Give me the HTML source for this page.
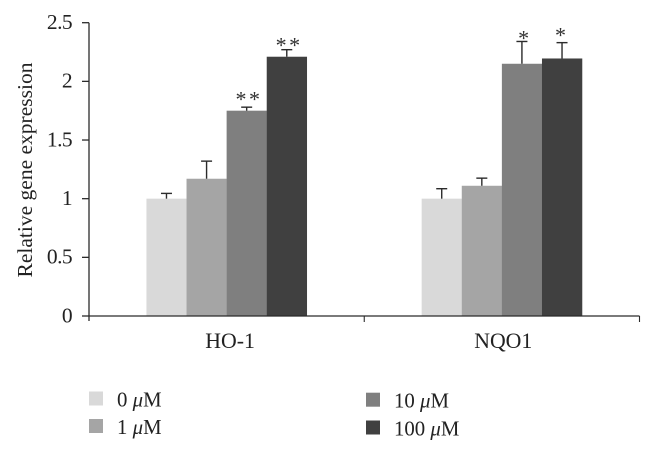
<!DOCTYPE html>
<html lang="en">
<head>
<meta charset="utf-8">
<title>Relative gene expression</title>
<style>
html,body{margin:0;padding:0;background:#fff;width:654px;height:454px;overflow:hidden}
svg{display:block;font-family:"Liberation Serif",serif;fill:#222}
</style>
</head>
<body>
<svg id="chart" width="654" height="454" viewBox="0 0 654 454" xmlns="http://www.w3.org/2000/svg"></svg>
<script>
const categories = ['HO-1', 'NQO1'];
const seriesNames = ['0', '1', '10', '100'];
const seriesColors = ['#d9d9d9', '#a5a5a5', '#7f7f7f', '#404040'];
const series0 = [1, 1];
const series1 = [1.17, 1.11];
const series10 = [1.75, 2.15];
const series100 = [2.21, 2.195];
const error0 = [0.045, 0.085];
const error1 = [0.15, 0.065];
const error10 = [0.03, 0.19];
const error100 = [0.06, 0.135];
const sig0 = ['', ''];
const sig1 = ['', ''];
const sig10 = ['**', '*'];
const sig100 = ['**', '*'];
const yTicks = [0, 0.5, 1, 1.5, 2, 2.5];
const yMax = 2.5;

const svg = document.getElementById('chart');
const NS = 'http://www.w3.org/2000/svg';
const left = 89, right = 639.5, top_ = 22.7, bottom = 316;
const barW = 40.1;
const allValues = [series0, series1, series10, series100];
const allErrors = [error0, error1, error10, error100];
const allSig = [sig0, sig1, sig10, sig100];
const sigDx = [[0, 0], [0, 0], [2.3, 3], [2.3, -0.3]];
const sigDy = [[0, 0], [0, 0], [-0.5, 4.2], [2.8, -0.2]];

function y(v) { return bottom - (v / yMax) * (bottom - top_); }
function band() { return (right - left) / categories.length; }
function x(c, s) { return left + band() * (c + 0.5) + (s - seriesNames.length / 2) * barW; }

function add(tag, attrs, text) {
  const el = document.createElementNS(NS, tag);
  for (const k in attrs) el.setAttribute(k, attrs[k]);
  if (text !== undefined) el.textContent = text;
  svg.appendChild(el);
  return el;
}

// bars
seriesNames.forEach((name, s) => {
  categories.forEach((cat, c) => {
    const bar = add('rect', { x: x(c, s), y: y(allValues[s][c]), width: barW + 0.2, height: bottom - y(allValues[s][c]), fill: seriesColors[s] });
    
    
  });
});

// error bars and significance markers
seriesNames.forEach((name, s) => {
  categories.forEach((cat, c) => {
    const cx = x(c, s) + barW / 2;
    const v = allValues[s][c];
    const t = y(v + allErrors[s][c]);
    const stem = add('line', { x1: cx, x2: cx, y1: y(v), y2: t, stroke: '#2b2b2b', 'stroke-width': 1.4 });
    
    
    const cap = add('line', { x1: cx - 5.5, x2: cx + 5.5, y1: t, y2: t, stroke: '#2b2b2b', 'stroke-width': 1.4 });
    
    
    if (allSig[s][c]) {
      const star = add('text', { x: cx + sigDx[s][c], y: t + sigDy[s][c], 'text-anchor': 'middle', 'font-size': 22, 'letter-spacing': 2.5, fill: '#333' }, allSig[s][c]);
      
      
    }
  });
});

// axes
const yAxis = add('line', { x1: left, x2: left, y1: top_, y2: bottom + 5, stroke: '#2b2b2b', 'stroke-width': 1.3 });


const xAxis = add('line', { x1: left, x2: right, y1: bottom, y2: bottom, stroke: '#2b2b2b', 'stroke-width': 1.3 });



yTicks.forEach(v => {
  const tick = add('line', { x1: left - 7, x2: left, y1: y(v), y2: y(v), stroke: '#2b2b2b', 'stroke-width': 1.3 });
  
  
  const label = add('text', { x: 72, y: y(v) + 6.3, 'text-anchor': 'end', 'font-size': 21.5, 'letter-spacing': -0.6 }, String(v));
  
  
});

for (let i = 1; i <= categories.length; i++) {
  const tx = left + band() * i;
  const tick = add('line', { x1: tx, x2: tx, y1: bottom, y2: bottom + 6, stroke: '#2b2b2b', 'stroke-width': 1.1 });
  
  
}

categories.forEach((cat, c) => {
  const label = add('text', { x: left + band() * (c + 0.5) + (c === 0 ? 3.5 : 1.4), y: 348, 'text-anchor': 'middle', 'font-size': 21.8 }, cat);
  
  
});

const yTitle = add('text', { transform: 'translate(32,170) rotate(-90)', 'text-anchor': 'middle', 'font-size': 21.5 }, 'Relative gene expression');



// legend: column x, row y are layout, labels come from seriesNames
function legendEntry(s, sx, sy) {
  const swatch = add('rect', { x: sx, y: sy, width: 14, height: 14, fill: seriesColors[s] });
  
  
  const label = add('text', { x: sx + 28, y: sy + 15, 'font-size': 20.8 });
  
  
  const a = document.createElementNS(NS, 'tspan');
  a.textContent = seriesNames[s] + ' ';
  const b = document.createElementNS(NS, 'tspan');
  b.setAttribute('font-style', 'italic');
  b.textContent = '\u03bc';
  const d = document.createElementNS(NS, 'tspan');
  d.textContent = 'M';
  label.append(a, b, d);
}
legendEntry(0, 89, 391.5);
legendEntry(1, 89, 419);
legendEntry(2, 366, 392.7);
legendEntry(3, 366, 420.5);
</script>
</body>
</html>
